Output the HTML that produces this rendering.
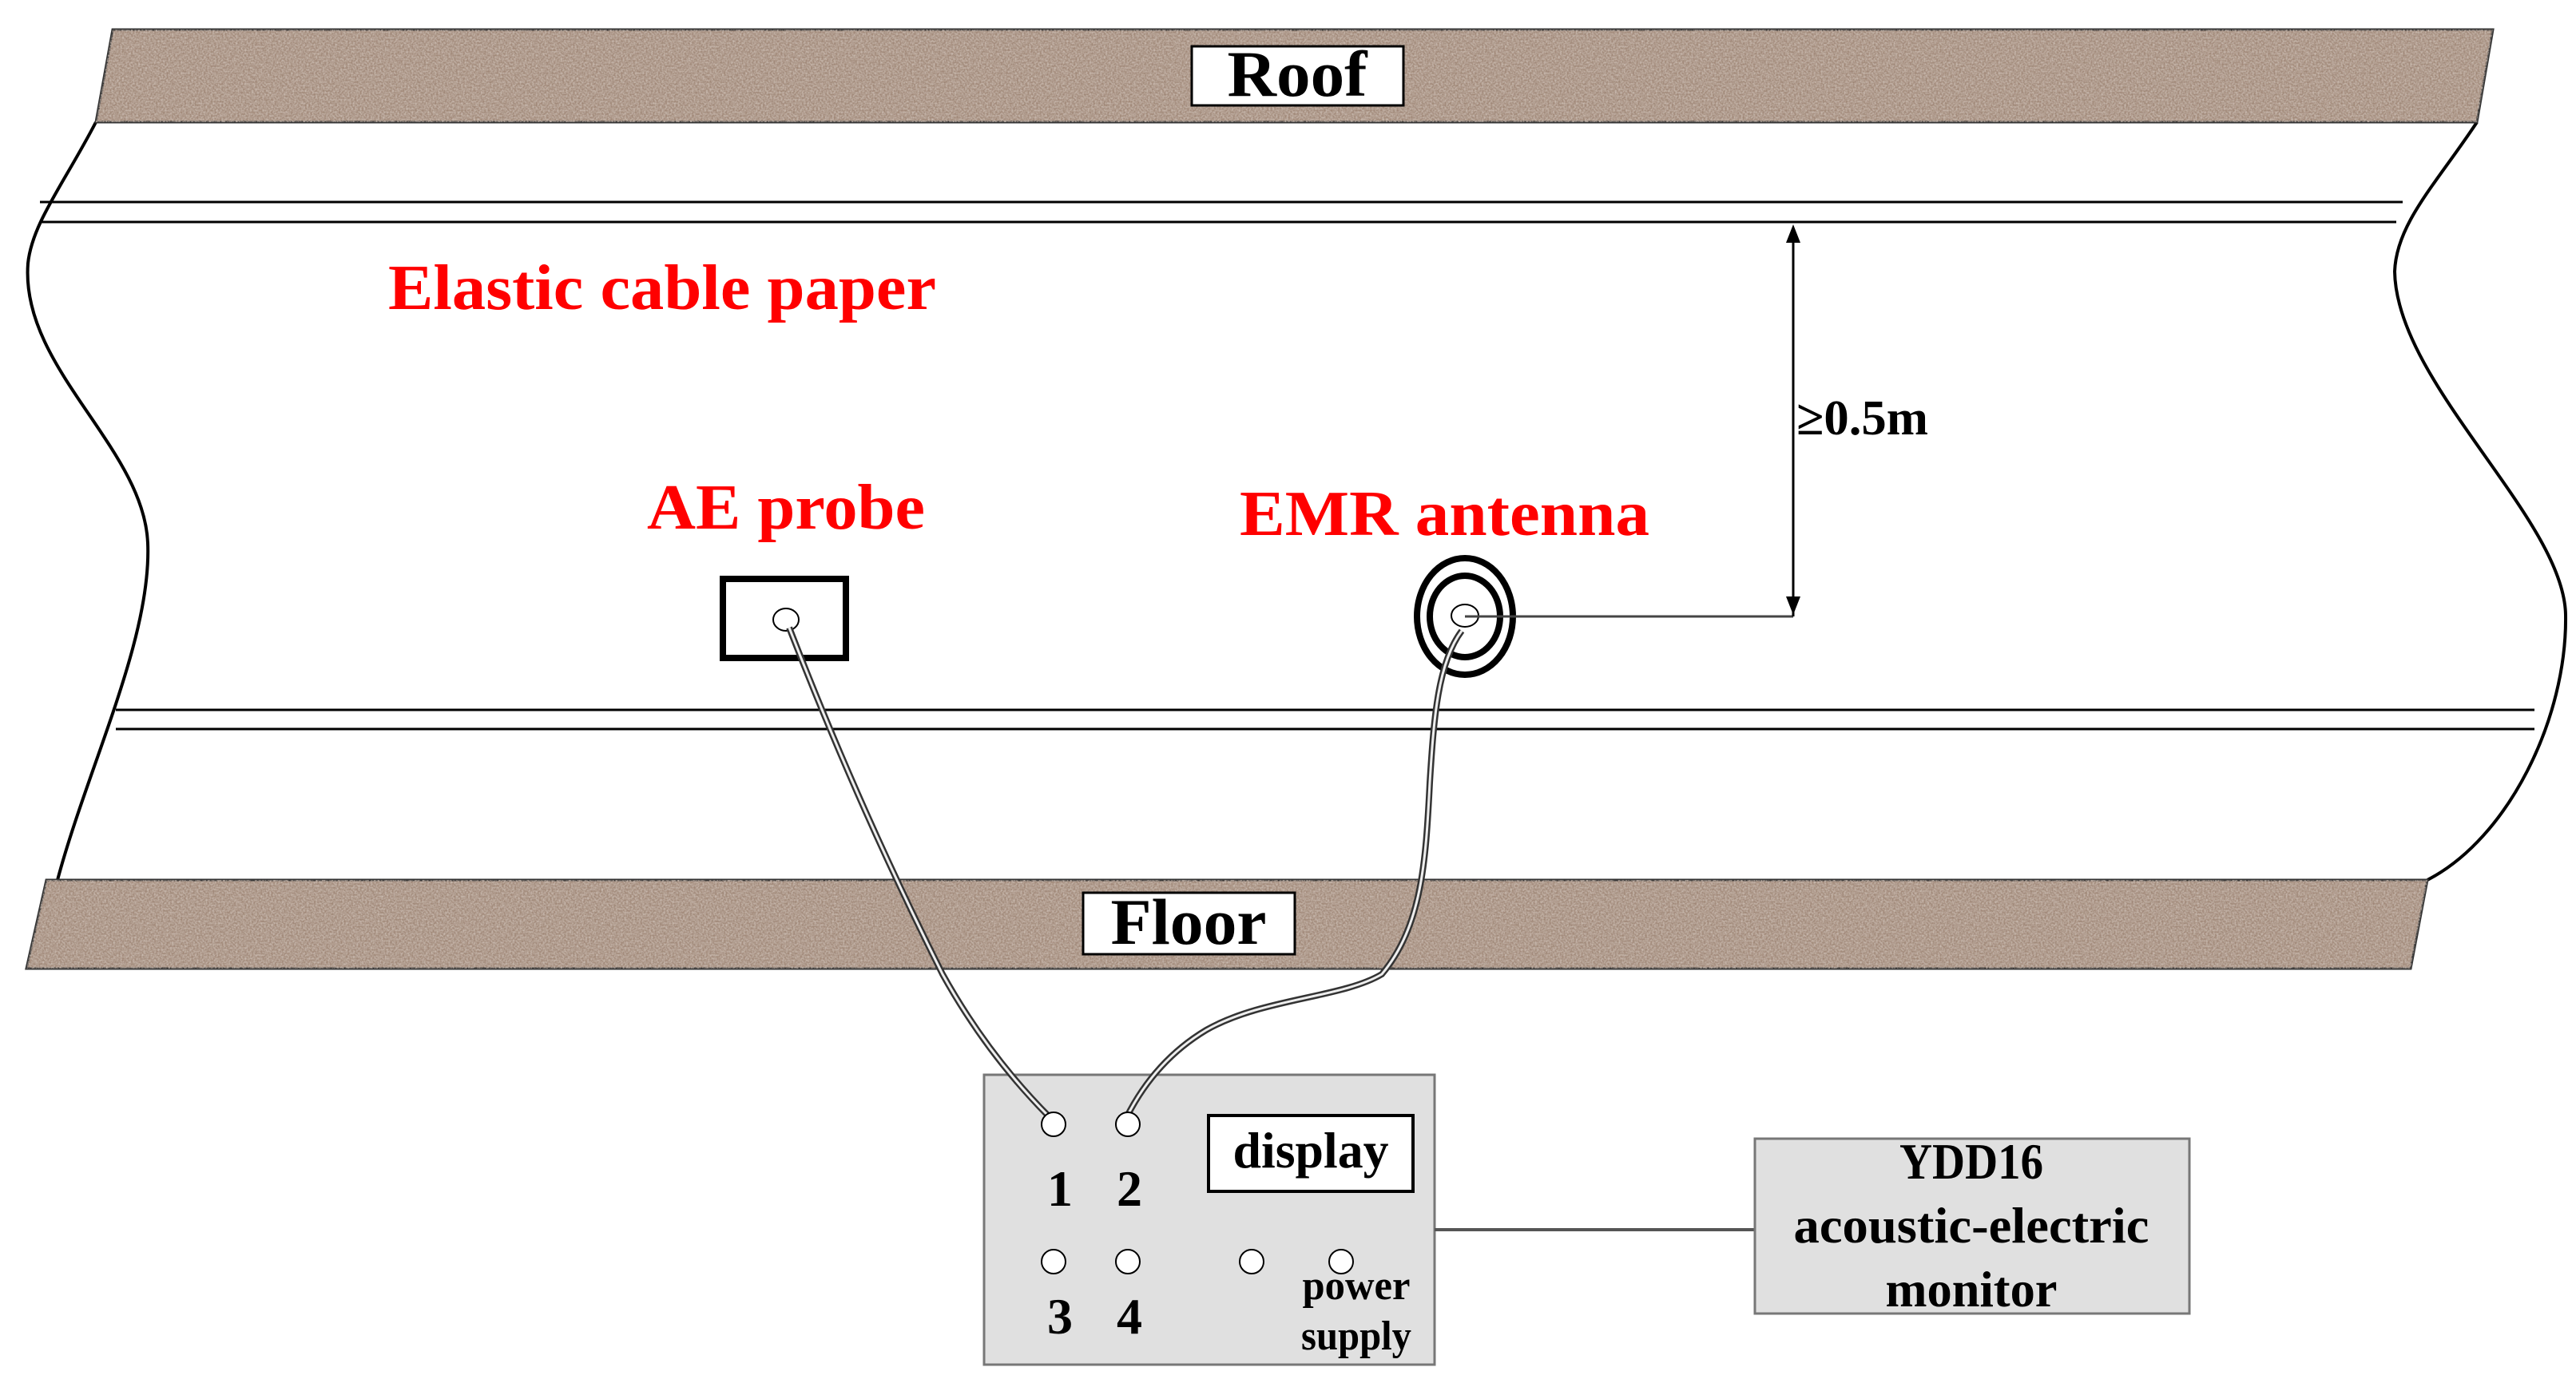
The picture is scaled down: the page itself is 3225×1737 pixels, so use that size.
<!DOCTYPE html>
<html><head><meta charset="utf-8"><style>
html,body{margin:0;padding:0;background:#fff;}
svg{display:block;}
</style></head><body>
<svg width="3225" height="1737" viewBox="0 0 3225 1737" xmlns="http://www.w3.org/2000/svg">
<defs>
<filter id="grain" x="0" y="0" width="100%" height="100%">
<feTurbulence type="fractalNoise" baseFrequency="0.45" numOctaves="2" seed="3" result="n"/>
<feColorMatrix in="n" type="matrix" values="0 0 0 0 0.60  0 0 0 0 0.51  0 0 0 0 0.45  0 0 0 -1.6 1.2" result="c"/>
<feComposite in="c" in2="SourceGraphic" operator="in"/>
</filter>
</defs>
<rect width="3225" height="1737" fill="#fff"/>

<path d="M120,153 C80,230 40,280 35,330 C25,460 180,560 185,680 C190,800 110,960 72,1102" fill="none" stroke="#000" stroke-width="4"/>
<path d="M3101,153 C3050,230 3000,280 2998,340 C3000,480 3210,650 3212,770 C3214,900 3140,1050 3039,1102" fill="none" stroke="#000" stroke-width="4"/>

<polygon points="141,37 3121,37 3101,153 120,153" fill="#a08878" stroke="#333" stroke-width="3"/>
<polygon points="141,37 3121,37 3101,153 120,153" fill="#a08878" filter="url(#grain)"/>
<rect x="1492" y="58" width="265" height="74" fill="#fff" stroke="#000" stroke-width="3"/>
<text x="1624" y="120" text-anchor="middle" font-family="Liberation Serif, serif" font-weight="bold" font-size="82" textLength="175" lengthAdjust="spacingAndGlyphs">Roof</text>

<line x1="50" y1="253" x2="3008" y2="253" stroke="#000" stroke-width="3"/>
<line x1="50" y1="278" x2="3000" y2="278" stroke="#000" stroke-width="3"/>
<line x1="145" y1="889" x2="3173" y2="889" stroke="#000" stroke-width="3"/>
<line x1="145" y1="913" x2="3173" y2="913" stroke="#000" stroke-width="3"/>

<polygon points="58,1102 3039,1102 3018,1213 33,1213" fill="#a08878" stroke="#333" stroke-width="3"/>
<polygon points="58,1102 3039,1102 3018,1213 33,1213" fill="#a08878" filter="url(#grain)"/>
<rect x="1356" y="1118" width="265" height="77" fill="#fff" stroke="#000" stroke-width="3"/>
<text x="1488" y="1182" text-anchor="middle" font-family="Liberation Serif, serif" font-weight="bold" font-size="82" textLength="195" lengthAdjust="spacingAndGlyphs">Floor</text>

<g font-family="Liberation Serif, serif" font-weight="bold" fill="#ff0000">
<text x="486" y="387" font-size="80" textLength="686" lengthAdjust="spacingAndGlyphs">Elastic cable paper</text>
<text x="810" y="662" font-size="80" textLength="348" lengthAdjust="spacingAndGlyphs">AE probe</text>
<text x="1552" y="670" font-size="80" textLength="513" lengthAdjust="spacingAndGlyphs">EMR antenna</text>
</g>

<rect x="905" y="725" width="154" height="99" fill="none" stroke="#000" stroke-width="8"/>
<ellipse cx="984" cy="776" rx="16" ry="14" fill="#fff" stroke="#000" stroke-width="2"/>

<ellipse cx="1834" cy="772" rx="60" ry="73" fill="none" stroke="#000" stroke-width="8"/>
<ellipse cx="1834" cy="772" rx="44" ry="51" fill="none" stroke="#000" stroke-width="8"/>
<ellipse cx="1834" cy="771" rx="17" ry="14" fill="#fff" stroke="#000" stroke-width="2"/>
<line x1="1834" y1="772" x2="2245" y2="772" stroke="#444" stroke-width="3"/>
<line x1="2245" y1="290" x2="2245" y2="772" stroke="#000" stroke-width="3"/>
<polygon points="2245,281 2236,304 2254,304" fill="#000"/>
<polygon points="2245,770 2236,747 2254,747" fill="#000"/>
<text x="2249" y="544" font-family="Liberation Serif, serif" font-weight="bold" font-size="62" textLength="165" lengthAdjust="spacingAndGlyphs">≥0.5m</text>

<rect x="1232" y="1346" width="564" height="363" fill="#e0e0e0" stroke="#777" stroke-width="3"/>

<g fill="none">
<path d="M988,786 C1040,920 1100,1060 1180,1220 C1230,1310 1285,1370 1315,1400" stroke="#333" stroke-width="8"/>
<path d="M988,786 C1040,920 1100,1060 1180,1220 C1230,1310 1285,1370 1315,1400" stroke="#eee" stroke-width="3"/>
<path d="M1830,790 C1800,830 1795,900 1790,980 C1785,1080 1780,1160 1730,1220 C1680,1250 1580,1250 1510,1290 C1460,1320 1430,1360 1410,1400" stroke="#333" stroke-width="8"/>
<path d="M1830,790 C1800,830 1795,900 1790,980 C1785,1080 1780,1160 1730,1220 C1680,1250 1580,1250 1510,1290 C1460,1320 1430,1360 1410,1400" stroke="#eee" stroke-width="3"/>
</g>

<g fill="#fff" stroke="#000" stroke-width="2">
<ellipse cx="1319" cy="1408" rx="15" ry="15"/>
<ellipse cx="1412" cy="1408" rx="15" ry="15"/>
<ellipse cx="1319" cy="1580" rx="15" ry="15"/>
<ellipse cx="1412" cy="1580" rx="15" ry="15"/>
<ellipse cx="1567" cy="1580" rx="15" ry="15"/>
<ellipse cx="1679" cy="1580" rx="15" ry="15"/>
</g>
<rect x="1513" y="1397" width="256" height="95" fill="#fff" stroke="#000" stroke-width="4"/>
<g font-family="Liberation Serif, serif" font-weight="bold" fill="#000">
<text x="1641" y="1462" text-anchor="middle" font-size="64" textLength="195" lengthAdjust="spacingAndGlyphs">display</text>
<text x="1327" y="1510" text-anchor="middle" font-size="64">1</text>
<text x="1414" y="1510" text-anchor="middle" font-size="64">2</text>
<text x="1327" y="1670" text-anchor="middle" font-size="64">3</text>
<text x="1414" y="1670" text-anchor="middle" font-size="64">4</text>
<text x="1698" y="1627" text-anchor="middle" font-size="52" textLength="135" lengthAdjust="spacingAndGlyphs">power</text>
<text x="1698" y="1690" text-anchor="middle" font-size="52" textLength="138" lengthAdjust="spacingAndGlyphs">supply</text>
</g>

<line x1="1796" y1="1540" x2="2197" y2="1540" stroke="#555" stroke-width="4"/>
<rect x="2197" y="1426" width="544" height="219" fill="#e0e0e0" stroke="#777" stroke-width="3"/>
<g font-family="Liberation Serif, serif" font-weight="bold" fill="#000" text-anchor="middle" font-size="64">
<text x="2468" y="1476" textLength="180" lengthAdjust="spacingAndGlyphs">YDD16</text>
<text x="2468" y="1556" textLength="445" lengthAdjust="spacingAndGlyphs">acoustic-electric</text>
<text x="2468" y="1636" textLength="215" lengthAdjust="spacingAndGlyphs">monitor</text>
</g>
</svg>
</body></html>
